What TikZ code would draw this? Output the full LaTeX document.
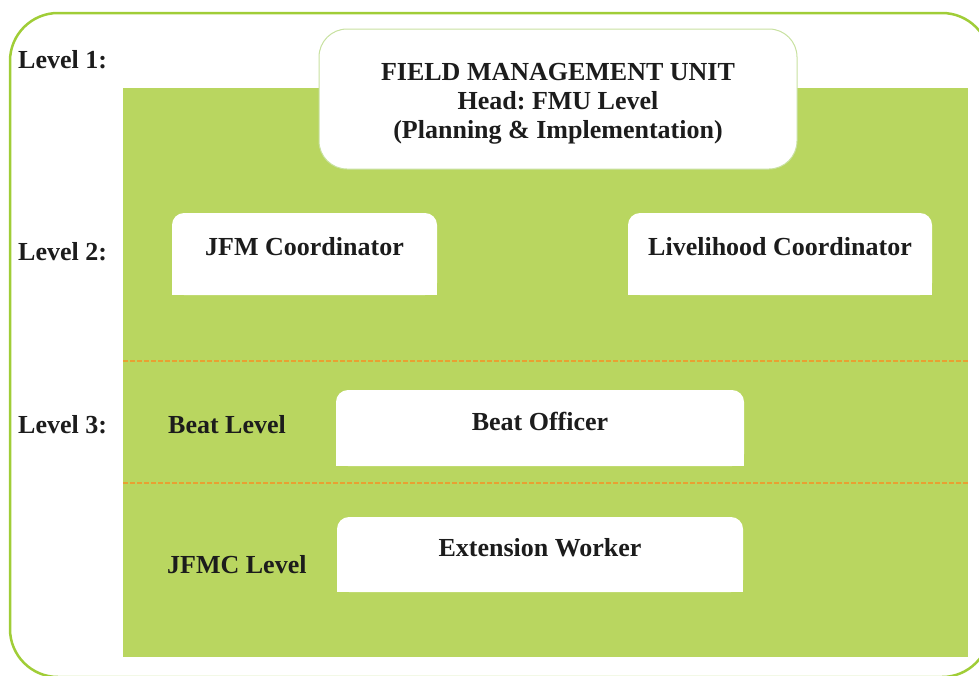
\documentclass[tikz,border=0pt]{standalone}
\usepackage{fontspec}
\setmainfont{Liberation Serif}
\frenchspacing
\definecolor{bandgreen}{RGB}{185,214,96}
\definecolor{rimgreen}{RGB}{160,205,55}
\definecolor{fmuedge}{RGB}{200,225,160}
\definecolor{dashorange}{RGB}{232,160,50}
\definecolor{txt}{RGB}{28,28,28}
\tikzset{
  lbl/.style={font=\fontsize{26}{30}\selectfont\bfseries, text=txt, inner sep=0pt},
  whitebox/.style={fill=white, draw=none, inner sep=0pt, rounded corners=12pt},
  bandline/.style={draw=dashorange, line width=1.3pt, dash pattern=on 5pt off 2pt},
}
\begin{document}
\begin{tikzpicture}[x=1pt,y=-1pt]
\useasboundingbox (0,0) rectangle (979,675);
% outer frame
\draw[rimgreen, line width=2.5pt, rounded corners=48pt] (10,13) rectangle (990,677);
% green band
\fill[bandgreen] (123,88) rectangle (968,657);
% separators
\coordinate (s1l) at (123,361); \coordinate (s1r) at (968,361);
\coordinate (s2l) at (123,483); \coordinate (s2r) at (968,483);
\draw[bandline] (s1l) -- (s1r);
\draw[bandline] (s2l) -- (s2r);
% FMU box
\node[whitebox, draw=fmuedge, line width=1pt, rounded corners=28pt, minimum width=478pt, minimum height=140pt] (fmu) at (558,99) {};
\node[lbl, anchor=base] (fmu1) at (558,80) {FIELD MANAGEMENT UNIT};
\node[lbl, anchor=base] (fmu2) at (558,109) {Head: FMU Level};
\node[lbl, anchor=base] (fmu3) at (558,138) {(Planning \& Implementation)};
% level 2 boxes
\node[whitebox, minimum width=265pt, minimum height=82pt] (jfm) at (304.5,254) {};
\fill[white] (jfm.west) rectangle (jfm.south east);
\node[lbl, anchor=base] (jfmt) at (304.5,255) {JFM Coordinator};
\node[whitebox, minimum width=304pt, minimum height=82pt] (live) at (780,254) {};
\fill[white] (live.west) rectangle (live.south east);
\node[lbl, anchor=base] (livet) at (780,255) {Livelihood Coordinator};
% level 3 box
\node[whitebox, minimum width=408pt, minimum height=76pt] (beat) at (540,428) {};
\fill[white] (beat.west) rectangle (beat.south east);
\node[lbl, anchor=base] (beatt) at (540,430) {Beat Officer};
% extension worker box
\node[whitebox, minimum width=406pt, minimum height=75pt] (ext) at (540,554.5) {};
\fill[white] (ext.west) rectangle (ext.south east);
\node[lbl, anchor=base] (extt) at (540,556) {Extension Worker};
% level labels
\node[lbl, anchor=base west] (l1) at (18,68) {Level 1:};
\node[lbl, anchor=base west] (l2) at (18,260) {Level 2:};
\node[lbl, anchor=base west] (l3) at (18,433) {Level 3:};
\node[lbl, anchor=base west] (bl) at (168,433) {Beat Level};
\node[lbl, anchor=base west] (jl) at (167,573) {JFMC Level};
\end{tikzpicture}
\end{document}
